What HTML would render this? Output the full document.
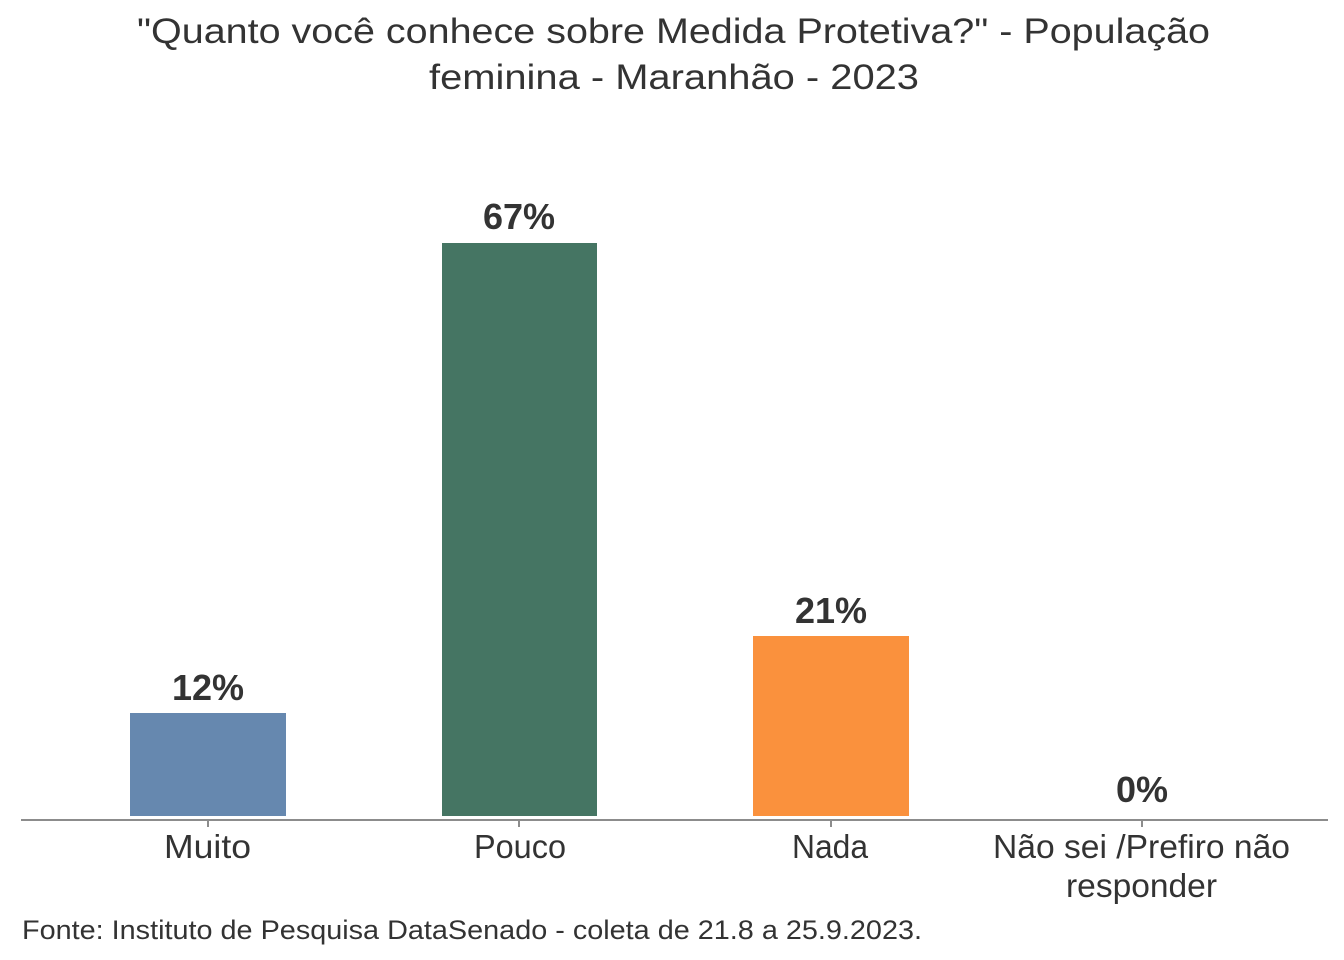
<!DOCTYPE html>
<html>
<head>
<meta charset="utf-8">
<style>
  html, body { margin: 0; padding: 0; background: #ffffff; }
  svg { display: block; }
  text { font-family: "Liberation Sans", Arial, sans-serif; fill: #333333; }
</style>
</head>
<body>
<svg width="1344" height="960" viewBox="0 0 1344 960" xmlns="http://www.w3.org/2000/svg">
  <rect x="0" y="0" width="1344" height="960" fill="#ffffff"/>

  <!-- Title -->
  <text x="137" y="43" font-size="35" textLength="1073" lengthAdjust="spacingAndGlyphs">"Quanto você conhece sobre Medida Protetiva?" - População</text>
  <text x="429" y="89" font-size="35" textLength="490" lengthAdjust="spacingAndGlyphs">feminina - Maranhão - 2023</text>

  <!-- Bars -->
  <rect x="130" y="713" width="156" height="103" fill="#6688AF"/>
  <rect x="442" y="243" width="155" height="573" fill="#457563"/>
  <rect x="753" y="636" width="156" height="180" fill="#FA913D"/>

  <!-- Data labels -->
  <text x="208" y="700" font-size="36" font-weight="bold" text-anchor="middle">12%</text>
  <text x="519" y="229" font-size="36" font-weight="bold" text-anchor="middle">67%</text>
  <text x="831" y="623" font-size="36" font-weight="bold" text-anchor="middle">21%</text>
  <text x="1142" y="802" font-size="36" font-weight="bold" text-anchor="middle">0%</text>

  <!-- Axis -->
  <line x1="21" y1="820" x2="1328" y2="820" stroke="#8c8c8c" stroke-width="2"/>
  <line x1="208" y1="820" x2="208" y2="827" stroke="#8c8c8c" stroke-width="2"/>
  <line x1="519" y1="820" x2="519" y2="827" stroke="#8c8c8c" stroke-width="2"/>
  <line x1="831" y1="820" x2="831" y2="827" stroke="#8c8c8c" stroke-width="2"/>
  <line x1="1142" y1="820" x2="1142" y2="827" stroke="#8c8c8c" stroke-width="2"/>

  <!-- Category labels -->
  <text x="164" y="858" font-size="33" textLength="87" lengthAdjust="spacingAndGlyphs">Muito</text>
  <text x="474" y="858" font-size="33" textLength="92" lengthAdjust="spacingAndGlyphs">Pouco</text>
  <text x="792" y="858" font-size="33" textLength="76" lengthAdjust="spacingAndGlyphs">Nada</text>
  <text x="993" y="858" font-size="33" textLength="297" lengthAdjust="spacingAndGlyphs">Não sei /Prefiro não</text>
  <text x="1066" y="897" font-size="33" textLength="151" lengthAdjust="spacingAndGlyphs">responder</text>

  <!-- Footer -->
  <text x="22" y="939" font-size="26.5" textLength="900" lengthAdjust="spacingAndGlyphs">Fonte: Instituto de Pesquisa DataSenado - coleta de 21.8 a 25.9.2023.</text>
</svg>
</body>
</html>
